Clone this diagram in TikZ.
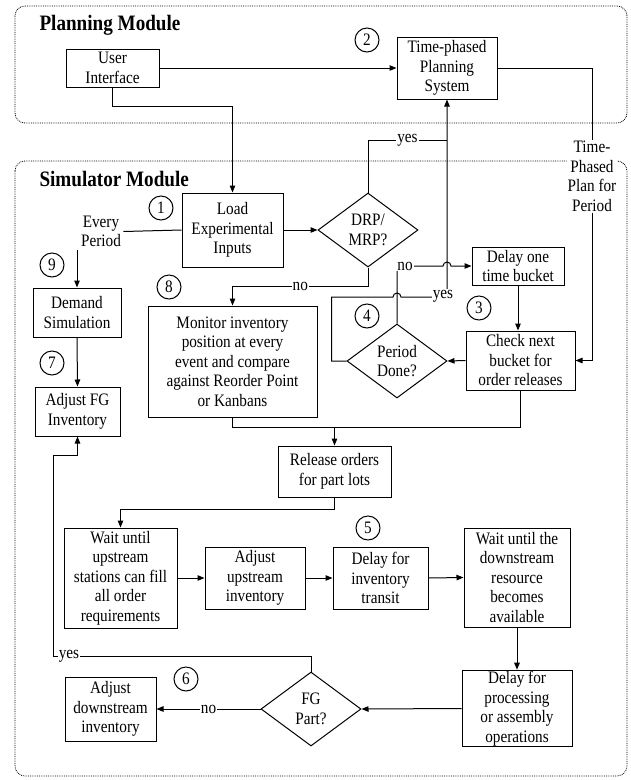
\documentclass[tikz,border=0pt]{standalone}
\usepackage{fontspec}
\setmainfont{Liberation Serif}[FakeStretch=0.87]
\usepackage{tikz}
\usetikzlibrary{arrows.meta,shapes.geometric,calc}
\tikzset{module/.style={densely dotted,line width=0.8pt,rounded corners=10pt},
         title/.style={font=\bfseries\fontsize{22}{26}\selectfont,anchor=west,inner sep=0pt}}

\begin{document}
\begin{tikzpicture}[x=1pt,y=-1pt,->,>={Triangle[length=7pt,width=5.5pt]},line width=1pt,
                    every node/.style={font=\fontsize{17.5}{19.5}\selectfont},
                    box/.style={draw,align=center,inner sep=1pt},
                    decision/.style={diamond,draw,align=center,inner sep=0pt,
                                     minimum width=100pt,minimum height=74pt},
                    num/.style={circle,draw,inner sep=0pt,minimum size=24pt},
                    lbl/.style={fill=white,inner sep=1pt}]
  \useasboundingbox (0,0) rectangle (630,780);
  \draw[-,module] (15,6) rectangle (627,123);
  \draw[-,module] (15,161) rectangle (627,776);
  \node[title] (pm) at (39,25)  {Planning Module};
  \node[title] (sm) at (39,179) {Simulator Module};

  \node[box,minimum width=93pt,minimum height=38pt]   (ui)    at (112.5,68)   {User\\Interface};
  \node[box,minimum width=100pt,minimum height=62pt]  (tps)   at (447,68)     {Time-phased\\Planning\\System};
  \node[lbl,align=center]                             (plan)  at (592,176.5)  {Time-\\Phased\\Plan for\\Period};
  \node[box,minimum width=101pt,minimum height=74pt]  (load)  at (232.5,230)  {Load\\Experimental\\Inputs};
  \node[decision]                                     (drp)   at (368,230)    {DRP/\\MRP?};
  \node[box,minimum width=92pt,minimum height=38pt]   (dly)   at (518,266)    {Delay one\\time bucket};
  \node[box,minimum width=109pt,minimum height=59pt]  (chk)   at (520.5,360.5){Check next\\bucket for\\order releases};
  \node[decision]                                     (pd)    at (397,361)    {Period\\Done?};
  \node[box,minimum width=169pt,minimum height=111pt] (mon)   at (232.5,361.5){Monitor inventory\\position at every\\event and compare\\against Reorder Point\\or Kanbans};
  \node[align=center,inner sep=2pt]                   (every) at (101,231.5)  {Every\\Period};
  \node[box,minimum width=88pt,minimum height=49pt]   (dem)   at (77,312.5)   {Demand\\Simulation};
  \node[box,minimum width=85pt,minimum height=49pt]   (adjfg) at (77.5,411.5) {Adjust FG\\Inventory};
  \node[box,minimum width=113pt,minimum height=51pt]  (rel)   at (334.5,471.5){Release orders\\for part lots};
  \node[box,minimum width=113pt,minimum height=100pt] (wait1) at (120.5,578)  {Wait until\\upstream\\stations can fill\\all order\\requirements};
  \node[box,minimum width=100pt,minimum height=62pt]  (adjup) at (255,578)    {Adjust\\upstream\\inventory};
  \node[box,minimum width=95pt,minimum height=62pt]   (dtr)   at (380.5,578)  {Delay for\\inventory\\transit};
  \node[box,minimum width=106pt,minimum height=99pt]  (wait2) at (517,577.5)  {Wait until the\\downstream\\resource\\becomes\\available};
  \node[box,minimum width=110pt,minimum height=75pt]  (dproc) at (517,708.5)  {Delay for\\processing\\or assembly\\operations};
  \node[decision]                                     (fg)    at (311,709)    {FG\\Part?};
  \node[box,minimum width=91pt,minimum height=64pt]   (adjdn) at (110.5,709)  {Adjust\\downstream\\inventory};

  \node[num] (n1) at (161,208) {1};
  \node[num] (n2) at (367,40)  {2};
  \node[num] (n3) at (479,308) {3};
  \node[num] (n4) at (367,316) {4};
  \node[num] (n5) at (368,528) {5};
  \node[num] (n6) at (186,679) {6};
  \node[num] (n7) at (52,363)  {7};
  \node[num] (n8) at (169,287) {8};
  \node[num] (n9) at (52,265)  {9};

  \coordinate (pdyes) at (447,297);
  \coordinate (pdno)  at (397,266);
  \coordinate (relin) at (334.5,427);
  \coordinate (fgyes) at (53,656);
  \coordinate (fgturn) at (53,455);

  \draw (ui.east) -- (tps.west);
  \draw (ui.south) -- ++(0,19) -| (load.north);
  \draw[-] (tps.east) -| (plan.north);
  \draw (plan.south) |- (chk.east);
  \draw[-] (load.west) -- (every.east);
  \draw (every.south -| dem.north) -- (dem.north);
  \draw (load.east) -- (drp.west);
  \draw[-] (drp.north) |- node[lbl,pos=0.75] {yes} ($(tps.south)+(0,41)$);
  \draw (pd.west) -- ++(-15,0) |- ($(pd.north |- pdyes)+(-4,0)$)
        arc[start angle=180,end angle=0,radius=4pt] -- (pdyes) -- (tps.south);
  \node[lbl] (yes2) at (443,296) {yes};
  \draw (pd.north) -- (pdno) -- ($(tps.south |- pdno)+(-4,0)$)
        arc[start angle=180,end angle=0,radius=4pt] -- (dly.west);
  \node[lbl] (no2) at (405,266) {no};
  \draw (drp.south) |- node[lbl,pos=0.75] {no} ($(mon.north)+(0,-19)$) -- (mon.north);
  \draw (dly.south) -- (dly.south |- chk.north);
  \draw (chk.west) -- (pd.east);
  \draw (mon.south) |- (relin) -- (rel.north);
  \draw[-] (chk.south) |- (relin);
  \draw (rel.south) -- ++(0,12) -| (wait1.north);
  \draw (wait1.east) -- (adjup.west);
  \draw (adjup.east) -- (dtr.west);
  \draw (dtr.east) -- (wait2.west);
  \draw (wait2.south) -- (dproc.north);
  \draw (dproc.west) -- (fg.east);
  \draw (fg.west) -- node[lbl] {no} (adjdn.east);
  \draw (fg.north) |- (fgyes) -- (fgturn) -| (adjfg.south);
  \node[lbl] (yes3) at (69,656) {yes};
  \draw (dem.south) -- (adjfg.north);
\end{tikzpicture}
\end{document}
